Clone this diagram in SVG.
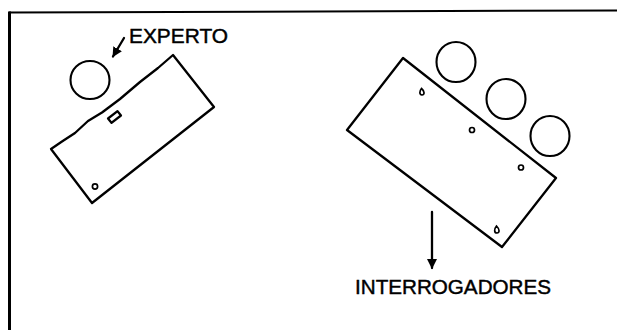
<svg xmlns="http://www.w3.org/2000/svg" width="617" height="330" viewBox="0 0 617 330">
  <style>
    .ink { fill: none; stroke: #000; stroke-width: 2.3; stroke-linejoin: round; stroke-linecap: round; }
    .seat { fill: #fff; stroke: #000; stroke-width: 2.1; }
    .dot { fill: #fff; stroke: #000; stroke-width: 1.7; }
    .label { font-family: "Liberation Sans", Arial, sans-serif; font-size: 21px; fill: #000; stroke: #000; stroke-width: 0.45; }
  </style>
  <defs>
    <marker id="head" viewBox="0 0 10 10" refX="9" refY="5" markerWidth="10" markerHeight="10" markerUnits="userSpaceOnUse" orient="auto">
      <path d="M0,0 L10,5 L0,10 Z" fill="#000"/>
    </marker>
  </defs>
  <rect width="617" height="330" fill="#fff"/>

  <!-- open frame: top and left rules -->
  <g id="frame">
    <path d="M9,12.5 L617,10.5" stroke="#000" stroke-width="2" fill="none"/>
    <path d="M9.5,11.5 L9.5,330" stroke="#000" stroke-width="3" fill="none"/>
  </g>

  <!-- expert: one seat beside a small table -->
  <g id="expert-seat">
    <ellipse class="seat" cx="90" cy="80" rx="19.5" ry="19"/>
  </g>
  <g id="expert-table">
    <path class="ink" d="M173,55 L214,107 L92,203 L51,149 L62,141.5 L75,133 L88,121 L102,112.5 L120,99 L140,82 L158,68 Z"/>
    <rect class="ink" x="-6" y="-2.8" width="12" height="5.6" transform="translate(114.5,117) rotate(-38)" stroke-width="1.8"/>
    <circle class="dot" cx="95" cy="186.5" r="2.6"/>
  </g>

  <!-- interrogators: three seats along a long table -->
  <g id="interrogator-seats">
    <ellipse class="seat" cx="456" cy="62" rx="19.5" ry="20"/>
    <ellipse class="seat" cx="506" cy="99" rx="19.5" ry="20"/>
    <ellipse class="seat" cx="550" cy="136" rx="19.5" ry="20"/>
  </g>
  <g id="interrogator-table">
    <path class="ink" d="M403,58 L556,178 L502,247 L347,130 Z"/>
    <path class="dot" d="M421.5,88.5 C419.5,91 419,94.5 422,95 C425,95 424.5,91 421.5,88.5 Z"/>
    <circle class="dot" cx="472" cy="130" r="2.5"/>
    <circle class="dot" cx="521" cy="167.5" r="2.5"/>
    <path class="dot" d="M496.5,226 C494,229 494,233 497,233 C500,233 499.5,229 496.5,226 Z"/>
  </g>

  <!-- pointer arrows -->
  <g id="connectors">
    <path class="ink" d="M124,38 L113,56.5" marker-end="url(#head)"/>
    <path class="ink" d="M432,212 L432,268" marker-end="url(#head)"/>
  </g>

  <g id="labels">
    <text class="label" x="129" y="42.5" textLength="99" lengthAdjust="spacingAndGlyphs">EXPERTO</text>
    <text class="label" x="355" y="294" textLength="196" lengthAdjust="spacingAndGlyphs">INTERROGADORES</text>
  </g>
</svg>
